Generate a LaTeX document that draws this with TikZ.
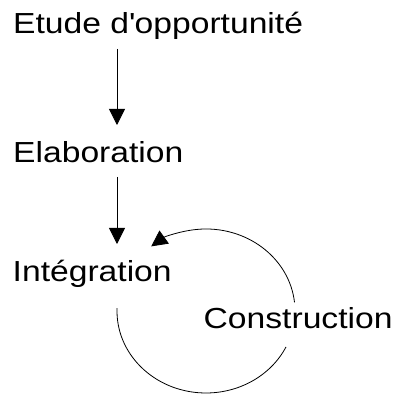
\documentclass[tikz,border=0pt]{standalone}
\usepackage{fontspec}
\setmainfont{Liberation Sans}[FakeStretch=1.16]
\usetikzlibrary{arrows.meta}
\begin{document}
\begin{tikzpicture}[x=1pt,y=1pt,
    label text/.style={anchor=base west, inner sep=0pt, font=\fontsize{29pt}{33pt}\selectfont},
    flow/.style={line width=0.8pt, -{Triangle[length=16pt,width=16pt]}},
    loopline/.style={line width=0.8pt}]
  \useasboundingbox (0,0) rectangle (400,394);

  % phase labels
  \node[label text] (etude) at (13,360) {Etude d\textquotesingle opportunité};
  \node[label text] (elab)  at (13,231) {Elaboration};
  \node[label text] (integ) at (12.5,112) {Intégration};
  \node[label text] (constr) at (203.5,65) {Construction};

  % end points of the straight arrows
  \coordinate (a1s) at (117,345);
  \coordinate (a1e) at (117,269);
  \coordinate (a2s) at (117,217);
  \coordinate (a2e) at (117,150);

  \draw[flow] (a1s) -- (a1e);
  \draw[flow] (a2s) -- (a2e);

  % iteration loop between integration and construction
  \coordinate (loopc) at (206,83);
  \draw[loopline, -{Triangle[length=16pt,width=16pt]}]
    ([shift={(6:89 and 82)}]loopc) arc[start angle=6, end angle=128, x radius=89, y radius=82];
  \draw[loopline]
    ([shift={(178:89 and 82)}]loopc) arc[start angle=178, end angle=334, x radius=89, y radius=82];
\end{tikzpicture}
\end{document}
